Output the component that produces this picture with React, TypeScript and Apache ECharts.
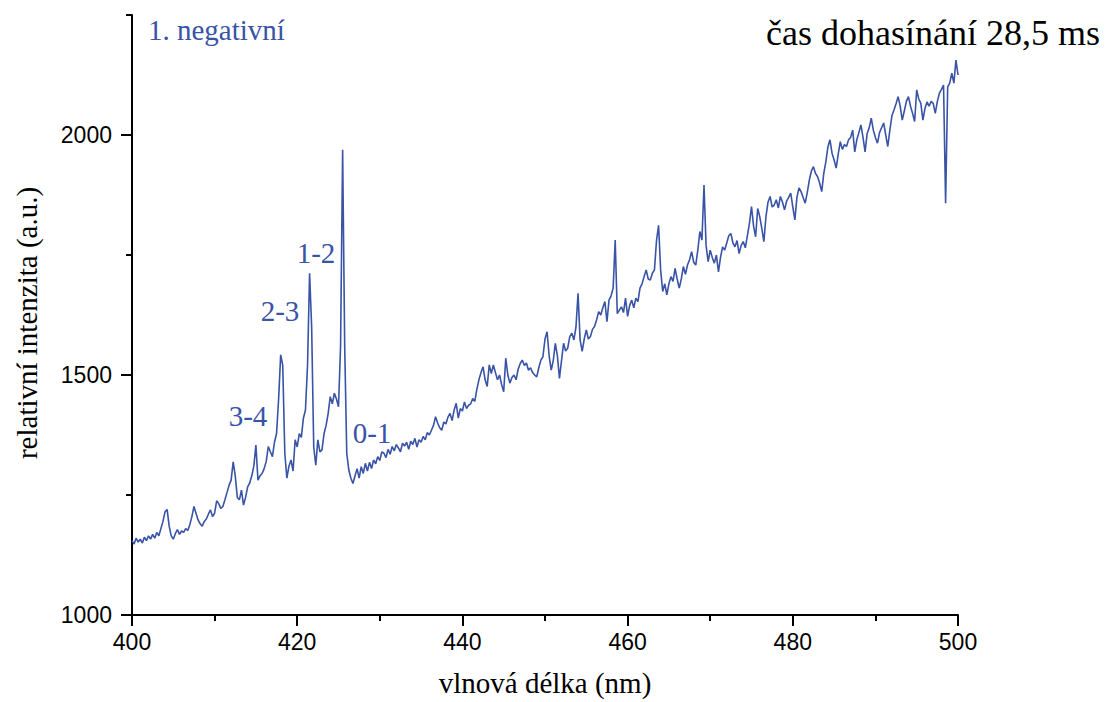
import React, { useEffect, useRef } from "react";
import * as echarts from "echarts";

// Spectrum sampling grid (nm)
const WAVELENGTH_START = 400;
const WAVELENGTH_STEP = 0.25;

// Relative intensity, one value per 0.25 nm (400 … 500 nm)
const INTENSITY: number[] = [
  1155, 1148, 1160, 1152, 1158, 1150, 1162, 1155, 1165, 1158, 1168, 1160, 1172, 1165, 1180, 1195, 1215, 1220, 1185, 1165,
  1158, 1170, 1178, 1168, 1175, 1172, 1180, 1176, 1188, 1205, 1226, 1212, 1198, 1190, 1185, 1195, 1200, 1210, 1219, 1205,
  1212, 1238, 1232, 1222, 1226, 1240, 1255, 1270, 1281, 1319, 1290, 1245, 1240, 1260, 1229, 1245, 1267, 1275, 1290, 1310,
  1354, 1281, 1290, 1295, 1305, 1320, 1351, 1340, 1330, 1360, 1378, 1450, 1542, 1520, 1337, 1285, 1310, 1323, 1300, 1365,
  1350, 1378, 1370, 1410, 1427, 1520, 1712, 1600, 1350, 1312, 1365, 1340, 1344, 1378, 1395, 1420, 1455, 1440, 1462, 1450,
  1434, 1560, 1969, 1560, 1337, 1302, 1285, 1274, 1290, 1305, 1285, 1309, 1295, 1316, 1300, 1318, 1305, 1323, 1315, 1330,
  1322, 1340, 1337, 1328, 1345, 1335, 1351, 1342, 1355, 1348, 1340, 1358, 1352, 1360, 1345, 1362, 1355, 1368, 1350, 1365,
  1360, 1372, 1365, 1380, 1375, 1385, 1395, 1413, 1400, 1390, 1385, 1402, 1398, 1412, 1420, 1405, 1427, 1441, 1410, 1430,
  1425, 1444, 1430, 1437, 1440, 1451, 1445, 1470, 1490, 1505, 1517, 1490, 1476, 1521, 1503, 1521, 1505, 1490, 1500, 1480,
  1465, 1535, 1500, 1483, 1495, 1500, 1490, 1512, 1524, 1531, 1520, 1525, 1510, 1515, 1505, 1500, 1496, 1515, 1531, 1538,
  1575, 1590, 1540, 1510, 1530, 1566, 1540, 1493, 1530, 1566, 1550, 1556, 1580, 1587, 1573, 1600, 1670, 1573, 1549, 1575,
  1594, 1575, 1580, 1595, 1601, 1615, 1632, 1625, 1640, 1653, 1611, 1656, 1665, 1681, 1781, 1628, 1635, 1642, 1630, 1660,
  1622, 1645, 1656, 1640, 1660, 1653, 1681, 1690, 1705, 1719, 1700, 1698, 1712, 1719, 1780, 1812, 1719, 1674, 1690, 1667,
  1690, 1705, 1695, 1722, 1700, 1681, 1700, 1726, 1710, 1729, 1740, 1757, 1735, 1729, 1760, 1799, 1781, 1896, 1770, 1736,
  1760, 1745, 1733, 1750, 1715, 1745, 1767, 1760, 1775, 1790, 1795, 1775, 1767, 1780, 1753, 1770, 1778, 1765, 1790, 1816,
  1851, 1810, 1788, 1847, 1830, 1805, 1778, 1830, 1860, 1872, 1850, 1854, 1865, 1848, 1872, 1860, 1844, 1862, 1870, 1879,
  1850, 1823, 1870, 1890, 1882, 1870, 1858, 1880, 1906, 1925, 1934, 1920, 1913, 1900, 1882, 1920, 1944, 1975, 1990, 1962,
  1948, 1931, 1960, 1986, 1970, 1980, 1976, 1990, 1995, 2010, 1965, 1990, 2005, 2021, 1995, 1965, 2003, 2015, 2035, 2010,
  1995, 1983, 2005, 2015, 2025, 2000, 1976, 2010, 2040, 2052, 2065, 2080, 2060, 2031, 2050, 2070, 2080, 2060, 2045, 2028,
  2094, 2075, 2066, 2031, 2055, 2069, 2060, 2070, 2066, 2045, 2070, 2087, 2095, 2104, 1858, 2100, 2108, 2129, 2108, 2156,
  2125,
];

const X_MIN = 400;
const X_MAX = 500;
const X_LABEL_STEP = 20;
const Y_MIN = 1000;
const Y_MAX = 2250;
const Y_MINOR_STEP = 250;
const Y_TICK_LABELS = [1000, 1500, 2000];

const BAND_LABELS = ["3-4", "2-3", "1-2", "0-1"];
const SYSTEM_LABEL = "1. negativní";
const TITLE = "čas dohasínání 28,5 ms";
const X_NAME = "vlnová délka (nm)";
const Y_NAME = "relativní intenzita (a.u.)";

const BLUE = "#3953a6";
const SERIF = '"Liberation Serif", "Times New Roman", serif';
const SANS = '"Liberation Sans", Arial, sans-serif';

export default function App() {
  const ref = useRef<HTMLDivElement>(null);

  useEffect(() => {
    if (!ref.current) return;
    const chart = echarts.init(ref.current, undefined, { renderer: "svg" });
    const data = INTENSITY.map((v, i) => [WAVELENGTH_START + i * WAVELENGTH_STEP, v]);
    const axisColor = "#000";
    const bandPos = [
      [248, 416],
      [280, 311],
      [316, 253],
      [372, 433],
    ];
    chart.setOption({
      animation: false,
      backgroundColor: "#fff",
      grid: { left: 132, right: 148, top: 15, bottom: 87, containLabel: false, outerBoundsMode: "none" },
      xAxis: {
        type: "value",
        min: X_MIN,
        max: X_MAX,
        interval: X_LABEL_STEP,
        axisLine: { show: true, onZero: false, lineStyle: { color: axisColor, width: 2 } },
        axisTick: { show: true, length: 11, lineStyle: { color: axisColor, width: 2 } },
        minorTick: { show: true, splitNumber: 2, length: 6, lineStyle: { color: axisColor, width: 2 } },
        splitLine: { show: false },
        axisLabel: { margin: 15, fontSize: 23, fontFamily: SANS, color: "#000", formatter: (v: number) => String(v) },
        name: X_NAME,
        nameLocation: "middle",
        nameGap: 53,
        nameTextStyle: { fontSize: 29, fontFamily: SERIF, color: "#000" },
      },
      yAxis: [
        {
          type: "value",
          min: Y_MIN,
          max: Y_MAX,
          interval: Y_MINOR_STEP,
          position: "left",
          axisLine: { show: true, onZero: false, lineStyle: { color: axisColor, width: 2 } },
          axisTick: { show: true, length: 6, lineStyle: { color: axisColor, width: 2 } },
          axisLabel: { show: false },
          splitLine: { show: false },
          name: Y_NAME,
          nameLocation: "middle",
          nameGap: 91,
          nameTextStyle: { fontSize: 29, fontFamily: SERIF, color: "#000", padding: [0, 16, 0, 0] },
        },
        {
          type: "value",
          min: Y_MIN,
          max: Y_MAX,
          interval: Y_MINOR_STEP,
          position: "left",
          axisLine: { show: false },
          axisTick: { show: true, length: 11, customValues: Y_TICK_LABELS, lineStyle: { color: axisColor, width: 2 } },
          axisLabel: {
            customValues: Y_TICK_LABELS,
            margin: 20,
            fontSize: 23,
            fontFamily: SANS,
            color: "#000",
            formatter: (v: number) => String(v),
          },
          splitLine: { show: false },
        },
      ],
      series: [
        {
          type: "line",
          data,
          yAxisIndex: 0,
          showSymbol: false,
          symbol: "none",
          silent: true,
          lineStyle: { color: BLUE, width: 1.6 },
          itemStyle: { color: BLUE },
        },
      ],
      graphic: [
        {
          type: "text",
          left: 148,
          top: 15,
          style: { text: SYSTEM_LABEL, fontSize: 29, fontFamily: SERIF, fill: BLUE },
        },
        {
          type: "text",
          right: 6,
          top: 15,
          style: { text: TITLE, fontSize: 36, fontFamily: SERIF, fill: "#000" },
        },
        ...BAND_LABELS.map((t, i) => ({
          type: "text",
          x: bandPos[i][0],
          y: bandPos[i][1],
          style: { text: t, fontSize: 29, fontFamily: SERIF, fill: BLUE, align: "center", verticalAlign: "middle" },
        })),
      ],
    });
    return () => chart.dispose();
  }, []);

  return (
    <div
      ref={ref}
      style={{ position: "fixed", left: 0, top: 0, width: 1106, height: 702, background: "#fff" }}
    />
  );
}
